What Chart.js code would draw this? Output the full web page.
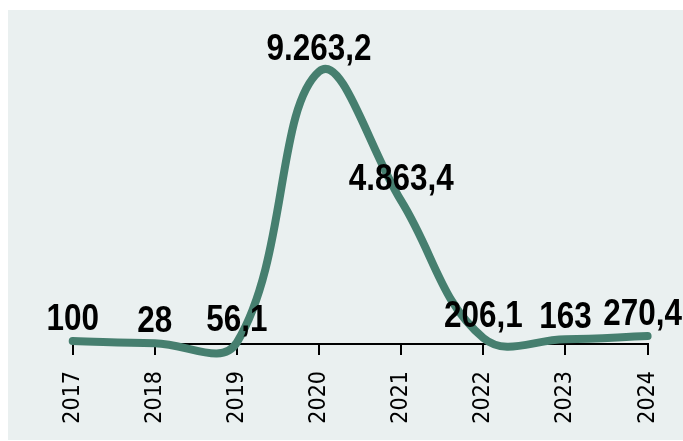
<!DOCTYPE html>
<html>
<head>
<meta charset="utf-8">
<script src="https://cdn.jsdelivr.net/npm/chart.js@4"></script>
<style>
  html, body { margin: 0; padding: 0; background: #ffffff; }
  #panel { position: absolute; left: 8px; top: 10px; width: 675px; height: 430px; background: #eaf0f0; }
  canvas { display: block; }
</style>
</head>
<body>
<div id="panel"><canvas id="c" width="675" height="430"></canvas></div>
<script>
const years = ['2017', '2018', '2019', '2020', '2021', '2022', '2023', '2024'];
const values = [100, 28, 56.1, 9263.2, 4863.4, 206.1, 163, 270.4];
const yMin = 0;
const yMax = 10000;

const lineColor = '#467f6f';
const labelFont = 'bold 37px "Liberation Sans", Arial, sans-serif';
const labelSqueeze = 0.85;

function fmt(v) {
  const parts = String(v).split('.');
  const intPart = parts[0].replace(/\B(?=(\d{3})+(?!\d))/g, '.');
  return parts.length > 1 ? intPart + ',' + parts[1] : intPart;
}

const valueLabels = {
  id: 'valueLabels',
  afterDatasetsDraw(chart) {
    const ctx = chart.ctx;
    const meta = chart.getDatasetMeta(0);
    ctx.save();
    ctx.font = labelFont;
    ctx.fillStyle = '#000000';
    ctx.textBaseline = 'alphabetic';
    ctx.textAlign = 'center';
    meta.data.forEach((el, i) => {
      const txt = fmt(chart.data.datasets[0].data[i]);
      const w = ctx.measureText(txt).width * labelSqueeze;
      let x = el.x;
      if (x + w / 2 > chart.width - 1) x = chart.width - 1 - w / 2;
      ctx.save();
      ctx.translate(x, el.y - 11);
      ctx.scale(labelSqueeze, 1);
      ctx.fillText(txt, 0, 0);
      ctx.restore();
    });
    ctx.restore();
  }
};

new Chart(document.getElementById('c'), {
  type: 'line',
  data: {
    labels: years,
    datasets: [{
      data: values,
      borderColor: lineColor,
      borderWidth: 8,
      borderCapStyle: 'round',
      borderJoinStyle: 'round',
      tension: 0.4,
      pointRadius: 0,
      pointHoverRadius: 0,
      fill: false,
      clip: false
    }]
  },
  options: {
    responsive: false,
    animation: false,
    events: [],
    layout: { padding: { left: 64.7, right: 35.4, top: 39.8, bottom: 0 } },
    elements: { line: { capBezierPoints: false } },
    plugins: { legend: { display: false }, tooltip: { enabled: false }, title: { display: false } },
    scales: {
      x: {
        offset: false,
        afterFit(scale) { scale.height = 96; scale.paddingLeft = 0; scale.paddingRight = 0; },
        border: { display: true, color: '#000000', width: 2 },
        grid: { display: true, drawOnChartArea: false, drawTicks: true, tickLength: 11, tickWidth: 2, tickColor: '#000000', color: '#000000', lineWidth: 2 },
        ticks: {
          minRotation: 90, maxRotation: 90, autoSkip: false, padding: 16,
          color: '#000000',
          font: { family: '"DejaVu Sans Condensed", "DejaVu Sans", sans-serif', size: 23 }
        }
      },
      y: { display: false, min: yMin, max: yMax }
    }
  },
  plugins: [valueLabels]
});
</script>
</body>
</html>
